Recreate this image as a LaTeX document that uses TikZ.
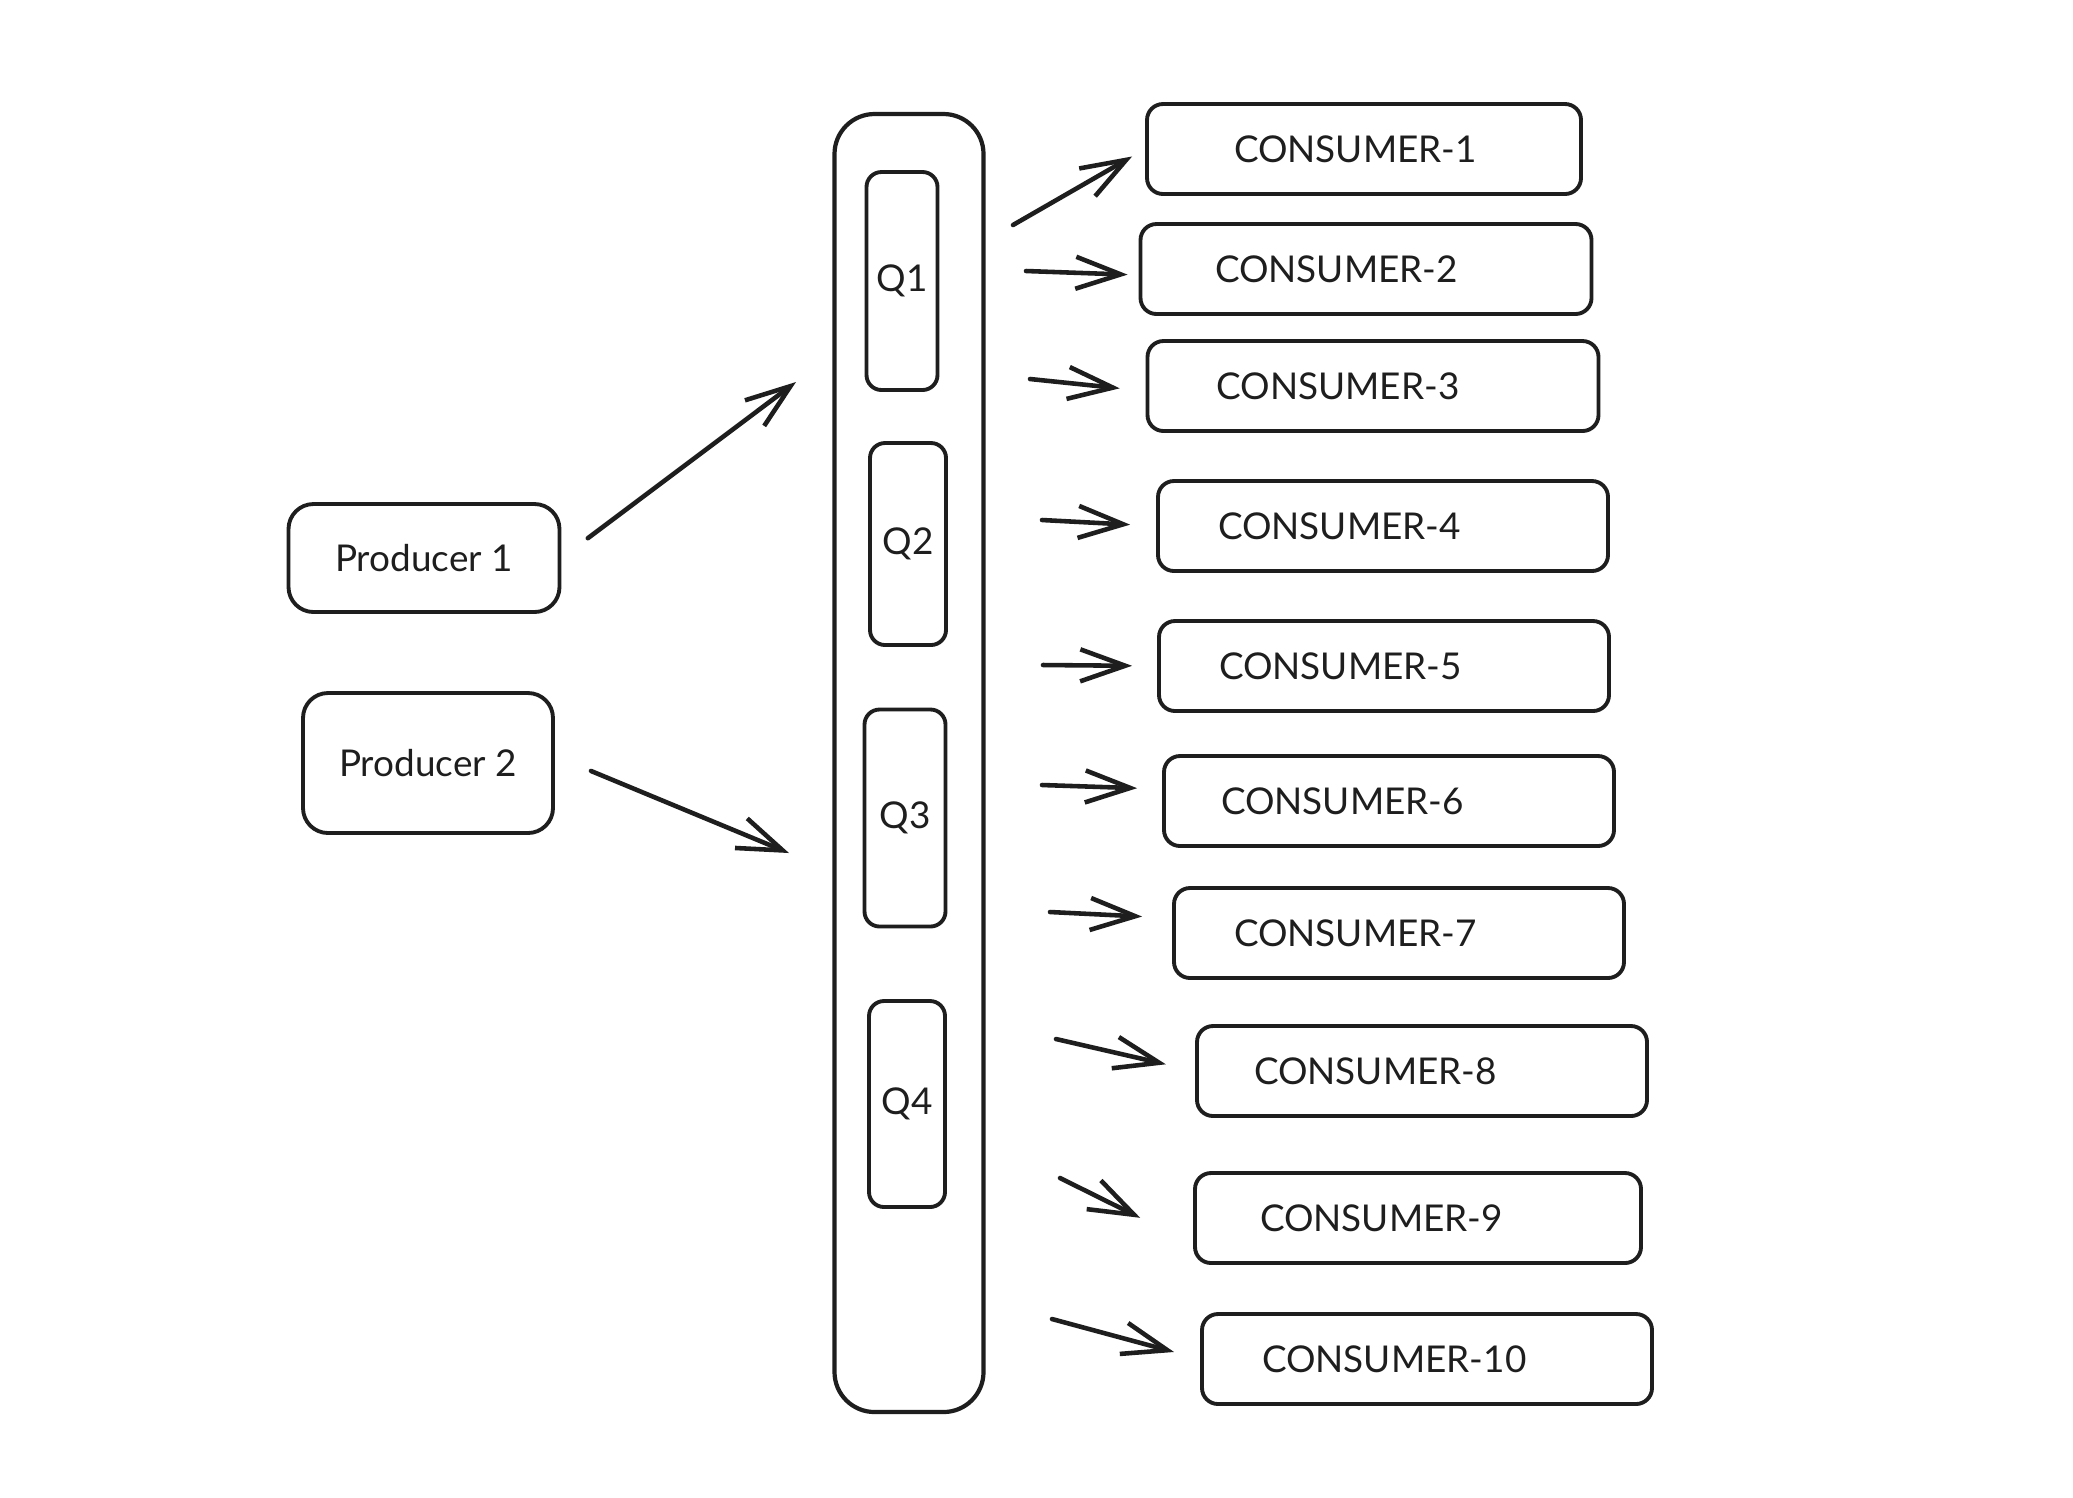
\documentclass[tikz,border=0pt]{standalone}
\usepackage{fontspec}
\setmainfont{Lato}
\usepackage{tikz}
\usetikzlibrary{arrows.meta}
\usepackage{xcolor}
\definecolor{ink}{RGB}{30,30,30}
\tikzset{
  prodbox/.style={draw=ink,line width=1.1pt,rounded corners=2.5mm,align=center,inner sep=0pt,
    font=\fontsize{10.5}{12}\selectfont,text=ink},
  colbox/.style={draw=ink,line width=1.2pt,rounded corners=4mm,minimum width=1.49cm,minimum height=12.98cm,inner sep=0pt},
  queuebox/.style={draw=ink,line width=1.1pt,rounded corners=1.5mm,minimum width=0.76cm,minimum height=2.1cm,
    inner sep=0pt,font=\fontsize{10.5}{12}\selectfont,text=ink},
  consbox/.style={draw=ink,line width=1.1pt,rounded corners=1.6mm,minimum height=0.9cm,text width=3.3cm,
    inner xsep=0.6cm,inner ysep=0pt,align=left,font=\fontsize{10.5}{12}\selectfont,text=ink},
  flow/.style={-{Straight Barb[length=4.5mm,width=3.2mm]},line width=1.3pt,line cap=round,draw=ink}
}
\begin{document}
\begin{tikzpicture}
  \path[fill=white,use as bounding box] (0,0) rectangle (20.73,-14.97);
  % producers
  \node[prodbox,minimum width=2.71cm,minimum height=1.08cm] (p1) at (4.24,-5.58) {Producer 1};
  \node[prodbox,minimum width=2.50cm,minimum height=1.40cm] (p2) at (4.28,-7.63) {Producer 2};
  % queue column
  \node[colbox] (col) at (9.09,-7.63) {};
  \node[queuebox,minimum width=0.71cm,minimum height=2.18cm] (q1) at (9.02,-2.81) {Q1};
  \node[queuebox,minimum height=2.02cm] (q2) at (9.08,-5.44) {Q2};
  \node[queuebox,minimum width=0.81cm,minimum height=2.17cm] (q3) at (9.05,-8.18) {Q3};
  \node[queuebox,minimum height=2.06cm] (q4) at (9.07,-11.04) {Q4};
  % consumers
  \node[consbox,text width=2.6cm,inner xsep=0.87cm] (c1) at (13.64,-1.49) {CONSUMER-1};
  \node[consbox,text width=3.02cm,inner xsep=0.745cm] (c2) at (13.66,-2.69) {CONSUMER-2};
  \node[consbox,text width=3.13cm,inner xsep=0.69cm] (c3) at (13.73,-3.86) {CONSUMER-3};
  \node[consbox] (c4) at (13.83,-5.26) {CONSUMER-4};
  \node[consbox] (c5) at (13.84,-6.66) {CONSUMER-5};
  \node[consbox,text width=3.36cm,inner xsep=0.57cm] (c6) at (13.89,-8.01) {CONSUMER-6};
  \node[consbox] (c7) at (13.99,-9.33) {CONSUMER-7};
  \node[consbox,text width=3.36cm,inner xsep=0.57cm] (c8) at (14.22,-10.71) {CONSUMER-8};
  \node[consbox,text width=3.16cm,inner xsep=0.65cm] (c9) at (14.18,-12.18) {CONSUMER-9};
  \node[consbox] (c10) at (14.27,-13.59) {CONSUMER-10};
  % loose arrow ends
  \coordinate (h1) at (7.96,-3.82);
  \coordinate (h2) at (7.89,-8.53);
  \coordinate (t1) at (10.13,-2.25);
  \coordinate (t2) at (10.26,-2.71);
  \coordinate (t3) at (10.30,-3.79);
  \coordinate (t4) at (10.42,-5.20);
  \coordinate (t5) at (10.43,-6.65);
  \coordinate (t6) at (10.42,-7.85);
  \coordinate (t7) at (10.50,-9.12);
  \coordinate (t8) at (10.56,-10.39);
  \coordinate (t9) at (10.60,-11.78);
  \coordinate (t10) at (10.52,-13.19);
  \draw[flow,shorten <=0.33cm] (p1.east) -- (h1);
  \draw[flow,shorten <=0.39cm] ([yshift=0.07cm]p2.east) -- (h2);
  \draw[flow,shorten >=0.15cm] (t1) -- (c1.west);
  \draw[flow,shorten >=0.11cm] (t2) -- ([yshift=-0.06cm]c2.west);
  \draw[flow,shorten >=0.26cm] (t3) -- ([yshift=-0.05cm]c3.west);
  \draw[flow,shorten >=0.26cm] (t4) -- (c4.west);
  \draw[flow,shorten >=0.25cm] (t5) -- (c5.west);
  \draw[flow,shorten >=0.25cm] (t6) -- ([yshift=0.12cm]c6.west);
  \draw[flow,shorten >=0.30cm] (t7) -- ([yshift=0.15cm]c7.west);
  \draw[flow,shorten >=0.30cm] (t8) -- (c8.west);
  \draw[flow,shorten >=0.59cm] (t9) -- ([yshift=-0.26cm]c9.west);
  \draw[flow,shorten >=0.27cm] (t10) -- (c10.west);
\end{tikzpicture}
\end{document}
